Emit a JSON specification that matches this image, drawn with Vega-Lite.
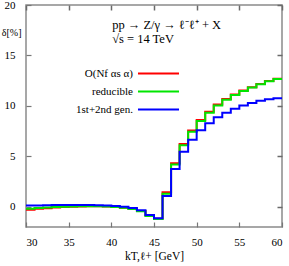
{
  "$schema": "https://vega.github.io/schema/vega-lite/v6.json",
  "width": 256,
  "height": 222,
  "autosize": "none",
  "padding": {"left": 26, "top": 5, "right": 7, "bottom": 39},
  "background": "white",
  "config": {
    "view": {"stroke": "#8a8a8a", "strokeWidth": 1.5},
    "font": "Liberation Serif",
    "axis": {"domain": false, "grid": false, "ticks": true, "tickColor": "#777777", "tickWidth": 1.2, "labelColor": "#000", "labelFont": "Liberation Serif", "labelFontSize": 11, "titleFont": "Liberation Serif", "titleFontWeight": "normal", "titleFontSize": 11.5, "titleColor": "#000"}
  },
  "datasets": {
    "curves": [
      {"x": 30, "v": -0.28, "s": "O(Nf αs α)"},
      {"x": 31, "v": -0.2, "s": "O(Nf αs α)"},
      {"x": 32, "v": -0.13, "s": "O(Nf αs α)"},
      {"x": 33, "v": -0.07, "s": "O(Nf αs α)"},
      {"x": 34, "v": -0.03, "s": "O(Nf αs α)"},
      {"x": 35, "v": 0.0, "s": "O(Nf αs α)"},
      {"x": 36, "v": 0.03, "s": "O(Nf αs α)"},
      {"x": 37, "v": 0.05, "s": "O(Nf αs α)"},
      {"x": 38, "v": 0.05, "s": "O(Nf αs α)"},
      {"x": 39, "v": 0.03, "s": "O(Nf αs α)"},
      {"x": 40, "v": -0.01, "s": "O(Nf αs α)"},
      {"x": 41, "v": -0.08, "s": "O(Nf αs α)"},
      {"x": 42, "v": -0.2, "s": "O(Nf αs α)"},
      {"x": 43, "v": -0.42, "s": "O(Nf αs α)"},
      {"x": 44, "v": -0.87, "s": "O(Nf αs α)"},
      {"x": 45, "v": -1.17, "s": "O(Nf αs α)"},
      {"x": 46, "v": 1.45, "s": "O(Nf αs α)"},
      {"x": 47, "v": 4.33, "s": "O(Nf αs α)"},
      {"x": 48, "v": 6.22, "s": "O(Nf αs α)"},
      {"x": 49, "v": 7.57, "s": "O(Nf αs α)"},
      {"x": 50, "v": 8.6, "s": "O(Nf αs α)"},
      {"x": 51, "v": 9.42, "s": "O(Nf αs α)"},
      {"x": 52, "v": 10.13, "s": "O(Nf αs α)"},
      {"x": 53, "v": 10.68, "s": "O(Nf αs α)"},
      {"x": 54, "v": 11.12, "s": "O(Nf αs α)"},
      {"x": 55, "v": 11.52, "s": "O(Nf αs α)"},
      {"x": 56, "v": 11.85, "s": "O(Nf αs α)"},
      {"x": 57, "v": 12.17, "s": "O(Nf αs α)"},
      {"x": 58, "v": 12.47, "s": "O(Nf αs α)"},
      {"x": 59, "v": 12.7, "s": "O(Nf αs α)"},
      {"x": 60, "v": 12.7, "s": "O(Nf αs α)"},
      {"x": 30, "v": -0.18, "s": "reducible"},
      {"x": 31, "v": -0.12, "s": "reducible"},
      {"x": 32, "v": -0.07, "s": "reducible"},
      {"x": 33, "v": -0.03, "s": "reducible"},
      {"x": 34, "v": 0.0, "s": "reducible"},
      {"x": 35, "v": 0.03, "s": "reducible"},
      {"x": 36, "v": 0.05, "s": "reducible"},
      {"x": 37, "v": 0.06, "s": "reducible"},
      {"x": 38, "v": 0.05, "s": "reducible"},
      {"x": 39, "v": 0.03, "s": "reducible"},
      {"x": 40, "v": -0.02, "s": "reducible"},
      {"x": 41, "v": -0.1, "s": "reducible"},
      {"x": 42, "v": -0.22, "s": "reducible"},
      {"x": 43, "v": -0.45, "s": "reducible"},
      {"x": 44, "v": -0.9, "s": "reducible"},
      {"x": 45, "v": -1.2, "s": "reducible"},
      {"x": 46, "v": 1.3, "s": "reducible"},
      {"x": 47, "v": 4.2, "s": "reducible"},
      {"x": 48, "v": 6.1, "s": "reducible"},
      {"x": 49, "v": 7.45, "s": "reducible"},
      {"x": 50, "v": 8.5, "s": "reducible"},
      {"x": 51, "v": 9.33, "s": "reducible"},
      {"x": 52, "v": 10.05, "s": "reducible"},
      {"x": 53, "v": 10.62, "s": "reducible"},
      {"x": 54, "v": 11.07, "s": "reducible"},
      {"x": 55, "v": 11.48, "s": "reducible"},
      {"x": 56, "v": 11.82, "s": "reducible"},
      {"x": 57, "v": 12.14, "s": "reducible"},
      {"x": 58, "v": 12.44, "s": "reducible"},
      {"x": 59, "v": 12.67, "s": "reducible"},
      {"x": 60, "v": 12.67, "s": "reducible"},
      {"x": 30, "v": 0.12, "s": "1st+2nd gen."},
      {"x": 31, "v": 0.14, "s": "1st+2nd gen."},
      {"x": 32, "v": 0.16, "s": "1st+2nd gen."},
      {"x": 33, "v": 0.17, "s": "1st+2nd gen."},
      {"x": 34, "v": 0.18, "s": "1st+2nd gen."},
      {"x": 35, "v": 0.19, "s": "1st+2nd gen."},
      {"x": 36, "v": 0.19, "s": "1st+2nd gen."},
      {"x": 37, "v": 0.18, "s": "1st+2nd gen."},
      {"x": 38, "v": 0.16, "s": "1st+2nd gen."},
      {"x": 39, "v": 0.13, "s": "1st+2nd gen."},
      {"x": 40, "v": 0.08, "s": "1st+2nd gen."},
      {"x": 41, "v": 0.0, "s": "1st+2nd gen."},
      {"x": 42, "v": -0.12, "s": "1st+2nd gen."},
      {"x": 43, "v": -0.35, "s": "1st+2nd gen."},
      {"x": 44, "v": -0.8, "s": "1st+2nd gen."},
      {"x": 45, "v": -1.13, "s": "1st+2nd gen."},
      {"x": 46, "v": 1.08, "s": "1st+2nd gen."},
      {"x": 47, "v": 3.74, "s": "1st+2nd gen."},
      {"x": 48, "v": 5.45, "s": "1st+2nd gen."},
      {"x": 49, "v": 6.65, "s": "1st+2nd gen."},
      {"x": 50, "v": 7.58, "s": "1st+2nd gen."},
      {"x": 51, "v": 8.27, "s": "1st+2nd gen."},
      {"x": 52, "v": 8.87, "s": "1st+2nd gen."},
      {"x": 53, "v": 9.33, "s": "1st+2nd gen."},
      {"x": 54, "v": 9.72, "s": "1st+2nd gen."},
      {"x": 55, "v": 10.05, "s": "1st+2nd gen."},
      {"x": 56, "v": 10.3, "s": "1st+2nd gen."},
      {"x": 57, "v": 10.5, "s": "1st+2nd gen."},
      {"x": 58, "v": 10.65, "s": "1st+2nd gen."},
      {"x": 59, "v": 10.75, "s": "1st+2nd gen."},
      {"x": 60, "v": 10.75, "s": "1st+2nd gen."}
    ],
    "notes": [
      {"x": 40.1, "y": 18.0, "t": "pp → Z/γ → ℓ⁻ℓ⁺ + X"},
      {"x": 40.1, "y": 16.6, "t": "√s = 14 TeV"}
    ]
  },
  "resolve": {"scale": {"x": "independent", "y": "independent"}, "axis": {"x": "independent", "y": "independent"}},
  "layer": [
    {
      "data": {"name": "curves"},
      "mark": {"type": "line", "interpolate": "step-after", "strokeWidth": 2, "clip": true},
      "encoding": {
        "x": {"field": "x", "type": "quantitative", "scale": {"domain": [30, 60], "nice": false, "zero": false},
              "axis": {"orient": "bottom", "values": [30, 35, 40, 45, 50, 55, 60], "tickSize": -5, "labelPadding": 14, "labelFont": "Liberation Serif", "title": "kT,ℓ+ [GeV]", "titlePadding": 3}},
        "y": {"field": "v", "type": "quantitative", "scale": {"domain": [-2, 20], "nice": false, "zero": false},
              "axis": {"orient": "left", "values": [0, 5, 10, 15, 20], "tickSize": -5, "labelPadding": 16, "labelFont": "Liberation Serif", "title": "δ[%]", "titleFontSize": 10, "titleAngle": 0, "titleAlign": "right", "titleBaseline": "alphabetic", "titleX": -5, "titleY": 30}},
        "color": {"field": "s", "type": "nominal",
                  "scale": {"domain": ["O(Nf αs α)", "reducible", "1st+2nd gen."], "range": ["#ff0000", "#00e600", "#0000ff"]},
                  "legend": {"orient": "none", "legendX": 126, "legendY": 62, "title": null, "symbolType": "M-3.73,0H3.73", "symbolSize": 121, "symbolStrokeWidth": 2, "labelAlign": "right", "labelOffset": -32, "rowPadding": 6, "labelFont": "Liberation Serif", "labelFontSize": 11, "labelColor": "#000", "padding": 0}}
      }
    },
    {
      "data": {"name": "curves"},
      "mark": {"type": "line", "opacity": 0},
      "encoding": {
        "x": {"field": "x", "type": "quantitative", "scale": {"domain": [30, 60], "nice": false, "zero": false},
              "axis": {"orient": "top", "values": [30, 35, 40, 45, 50, 55, 60], "ticks": true, "tickSize": -5, "tickWidth": 1.5, "tickColor": "#6a6a6a", "labels": false, "title": null}},
        "y": {"field": "v", "type": "quantitative", "scale": {"domain": [-2, 20], "nice": false, "zero": false},
              "axis": {"orient": "right", "values": [0, 5, 10, 15, 20], "ticks": true, "tickSize": -5, "tickWidth": 1.5, "tickColor": "#6a6a6a", "labels": false, "title": null}}
      }
    },
    {
      "data": {"name": "notes"},
      "mark": {"type": "text", "align": "left", "baseline": "middle", "font": "Liberation Serif", "fontSize": 12.5, "color": "#000"},
      "encoding": {
        "x": {"field": "x", "type": "quantitative", "scale": {"domain": [30, 60], "nice": false, "zero": false}, "axis": null},
        "y": {"field": "y", "type": "quantitative", "scale": {"domain": [-2, 20], "nice": false, "zero": false}, "axis": null},
        "text": {"field": "t"}
      }
    }
  ]
}
